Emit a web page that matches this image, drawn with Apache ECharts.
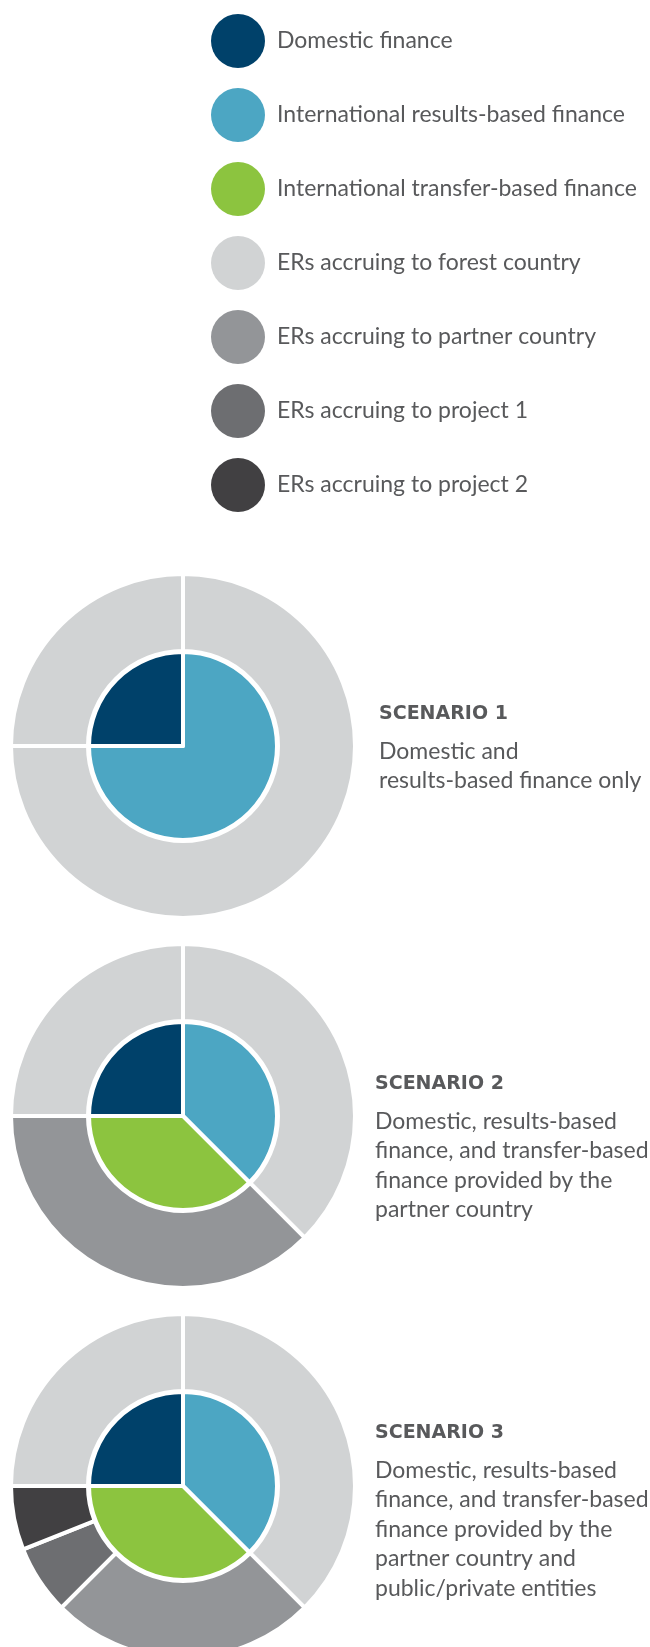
<!DOCTYPE html>
<html>
<head>
<meta charset="utf-8">
<script src="https://cdn.jsdelivr.net/npm/echarts@6/dist/echarts.min.js"></script>
<style>
  html, body { margin: 0; padding: 0; background: #fff; }
  #chart { width: 650px; height: 1647px; }
</style>
</head>
<body>
<div id="chart"></div>
<script>
// legend order
var legendNames = [
  'Domestic finance',
  'International results-based finance',
  'International transfer-based finance',
  'ERs accruing to forest country',
  'ERs accruing to partner country',
  'ERs accruing to project 1',
  'ERs accruing to project 2'
];

// scenario 1
var s1InnerNames = ['International results-based finance', 'Domestic finance'];
var s1InnerValues = [75, 25];
var s1OuterNames = ['ERs accruing to forest country', 'ERs accruing to forest country'];
var s1OuterValues = [75, 25];

// scenario 2
var s2InnerNames = ['International results-based finance', 'International transfer-based finance', 'Domestic finance'];
var s2InnerValues = [37.5, 37.5, 25];
var s2OuterNames = ['ERs accruing to forest country', 'ERs accruing to partner country', 'ERs accruing to forest country'];
var s2OuterValues = [37.5, 37.5, 25];

// scenario 3
var s3InnerNames = ['International results-based finance', 'International transfer-based finance', 'Domestic finance'];
var s3InnerValues = [37.5, 37.5, 25];
var s3OuterNames = ['ERs accruing to forest country', 'ERs accruing to partner country', 'ERs accruing to project 1', 'ERs accruing to project 2', 'ERs accruing to forest country'];
var s3OuterValues = [37.5, 25, 6.5, 6, 25];

var scenarioTitles = ['SCENARIO 1', 'SCENARIO 2', 'SCENARIO 3'];
var scenarioTexts = [
  'Domestic and\nresults-based finance only',
  'Domestic, results-based\nfinance, and transfer-based\nfinance provided by the\npartner country',
  'Domestic, results-based\nfinance, and transfer-based\nfinance provided by the\npartner country and\npublic/private entities'
];

var colors = {
  'Domestic finance': '#00416a',
  'International results-based finance': '#4ca6c3',
  'International transfer-based finance': '#8cc43f',
  'ERs accruing to forest country': '#d1d3d4',
  'ERs accruing to partner country': '#939598',
  'ERs accruing to project 1': '#6d6e71',
  'ERs accruing to project 2': '#414042'
};

var textColor = '#58595b';
var fontFamily = 'Lato, "Open Sans", sans-serif';
var centers = [[183, 746], [183, 1116], [183, 1486]];
var titleTops = [705, 1075, 1424];
var titleLefts = [379, 375, 375];

function toData(names, values) {
  var out = [];
  for (var i = 0; i < names.length; i++) {
    out.push({ name: names[i], value: values[i], itemStyle: { color: colors[names[i]] } });
  }
  return out;
}

function pieSeries(names, values, center, radius) {
  return {
    type: 'pie',
    center: center,
    radius: radius,
    startAngle: 90,
    clockwise: true,
    silent: true,
    label: { show: false },
    labelLine: { show: false },
    itemStyle: { borderColor: '#fff', borderWidth: 4 },
    data: toData(names, values)
  };
}

var myChart = echarts.init(document.getElementById('chart'), null, { renderer: 'canvas' });

var titles = [];
for (var i = 0; i < 3; i++) {
  titles.push({
    text: scenarioTitles[i],
    subtext: scenarioTexts[i],
    left: titleLefts[i],
    top: titleTops[i],
    padding: 0,
    itemGap: 12.5,
    textStyle: { fontFamily: '"DejaVu Sans", sans-serif', fontSize: 19, fontWeight: 'bold', color: textColor, lineHeight: 19 },
    subtextStyle: { fontFamily: fontFamily, fontSize: 23, color: textColor, lineHeight: 29.5 }
  });
}

var option = {
  backgroundColor: '#fff',
  animation: false,
  title: titles,
  legend: {
    orient: 'vertical',
    left: 211,
    top: 14,
    padding: 0,
    icon: 'circle',
    itemWidth: 54,
    itemHeight: 54,
    itemGap: 20,
    selectedMode: false,
    data: legendNames,
    itemStyle: { borderWidth: 0 },
    textStyle: { fontFamily: fontFamily, fontSize: 23, color: textColor, padding: [0, 0, 6, 7] }
  },
  series: [
    pieSeries(s1InnerNames, s1InnerValues, centers[0], [0, 94]),
    pieSeries(s1OuterNames, s1OuterValues, centers[0], [95, 172]),
    pieSeries(s2InnerNames, s2InnerValues, centers[1], [0, 94]),
    pieSeries(s2OuterNames, s2OuterValues, centers[1], [95, 172]),
    pieSeries(s3InnerNames, s3InnerValues, centers[2], [0, 94]),
    pieSeries(s3OuterNames, s3OuterValues, centers[2], [95, 172])
  ]
};

myChart.setOption(option);
</script>
</body>
</html>
